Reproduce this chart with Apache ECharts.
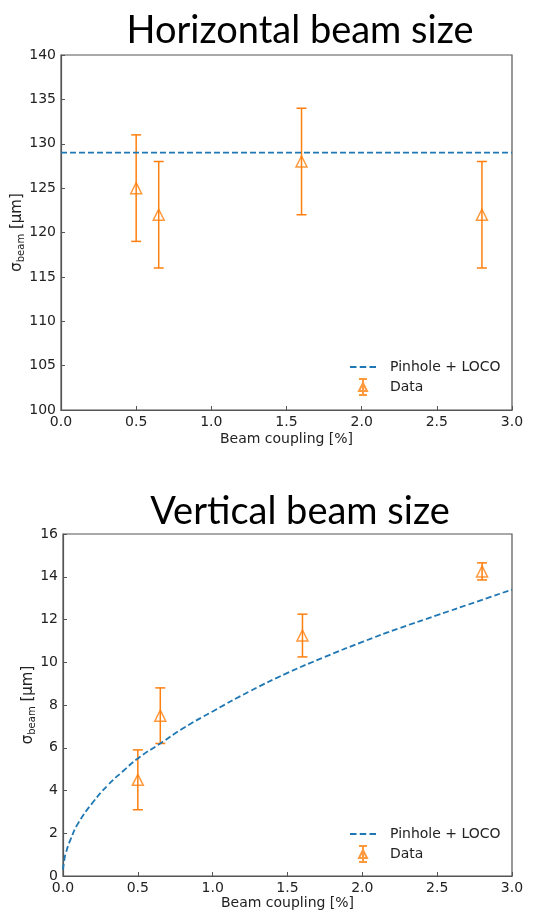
<!DOCTYPE html>
<html>
<head>
<meta charset="utf-8">
<script src="https://cdn.jsdelivr.net/npm/echarts@6/dist/echarts.min.js"></script>
<style>
  html, body { margin: 0; padding: 0; background: #fff; }
  #chart { width: 546px; height: 910px; }
</style>
</head>
<body>
<div id="chart"></div>
<script>
// beam coupling values of the measurements [%]
var coupling = [0.5, 0.65, 1.6, 2.8];

// horizontal beam size, data and error
var hSize = [125, 122, 128, 122];
var hErr = [6, 6, 6, 6];
var hModel = [[0, 129], [3, 129]];

// vertical beam size, data and error
var vSize = [4.5, 7.5, 11.25, 14.25];
var vErr = [1.4, 1.3, 1.0, 0.4];

// Pinhole + LOCO curve
var curveX = [0, 0.01, 0.02, 0.05, 0.1, 0.2, 0.3, 0.4, 0.5, 0.65, 0.8, 1.0, 1.25, 1.5, 1.75, 2.0, 2.25, 2.5, 2.75, 3.0];
var curveY = [0.3, 0.8, 1.1, 1.7, 2.45, 3.45, 4.25, 4.9, 5.5, 6.2, 6.9, 7.7, 8.65, 9.5, 10.25, 10.95, 11.6, 12.2, 12.8, 13.4];

var orange = '#ff7f0e';
var blue = '#1f77b4';
var dataIcon = 'path://M1,0 L11,0 M6,0 L6,20 M1,20 L11,20 M6,5 L1,15 L11,15 Z';
var dashIcon = 'path://M0,0 L6,0 L6,2 L0,2 Z M9,0 L15,0 L15,2 L9,2 Z M18,0 L24,0 L24,2 L18,2 Z';

var myChart = echarts.init(document.getElementById('chart'));

function zip(a, b) {
  var out = [];
  for (var i = 0; i < a.length; i++) out.push([a[i], b[i]]);
  return out;
}
function errData(x, y, e) {
  var out = [];
  for (var i = 0; i < x.length; i++) out.push([x[i], y[i], e[i]]);
  return out;
}

function renderErr(params, api) {
  var x = api.value(0), y = api.value(1), e = api.value(2);
  var lo = api.coord([x, y - e]);
  var hi = api.coord([x, y + e]);
  var cap = 5;
  var st = { stroke: orange, lineWidth: 1.5 };
  return {
    type: 'group',
    children: [
      { type: 'line', shape: { x1: lo[0], y1: lo[1], x2: hi[0], y2: hi[1] }, style: st },
      { type: 'line', shape: { x1: lo[0] - cap, y1: lo[1], x2: lo[0] + cap, y2: lo[1] }, style: st },
      { type: 'line', shape: { x1: hi[0] - cap, y1: hi[1], x2: hi[0] + cap, y2: hi[1] }, style: st }
    ]
  };
}

var tickFont = { color: '#222', fontSize: 14, fontFamily: 'DejaVu Sans' };

function xAx(idx, gap) {
  return {
    gridIndex: idx, type: 'value', min: 0, max: 3, interval: 0.5,
    name: 'Beam coupling [%]', nameLocation: 'middle', nameGap: gap, nameMoveOverlap: false,
    nameTextStyle: { color: '#222', fontSize: 14, fontFamily: 'DejaVu Sans' },
    axisLine: { show: true, onZero: false, lineStyle: { color: '#555', width: 1.2 } },
    axisTick: { show: true, inside: true, length: 4, lineStyle: { color: '#555' } },
    axisLabel: Object.assign({ margin: 5, formatter: function (v) { return v.toFixed(1); } }, tickFont),
    splitLine: { show: false }
  };
}
function yAx(idx, min, max, step, gap) {
  return {
    gridIndex: idx, type: 'value', min: min, max: max, interval: step,
    name: '{s|σ}{b|beam}{s| [μm]}', nameLocation: 'middle', nameGap: gap, nameRotate: 90,
    nameMoveOverlap: false,
    nameTextStyle: {
      color: '#222', fontFamily: 'DejaVu Sans',
      rich: {
        s: { fontSize: 15, lineHeight: 18, fontFamily: 'DejaVu Sans', color: '#222' },
        b: { fontSize: 10, lineHeight: 18, verticalAlign: 'bottom', fontFamily: 'DejaVu Sans', color: '#222' }
      }
    },
    axisLine: { show: true, lineStyle: { color: '#555', width: 1.2 } },
    axisTick: { show: true, inside: true, length: 4, lineStyle: { color: '#555' } },
    axisLabel: Object.assign({ margin: 5 }, tickFont),
    splitLine: { show: false }
  };
}
function legend(top) {
  return {
    orient: 'vertical', left: 345, top: top, itemWidth: 26, itemHeight: 16, itemGap: 4,
    selectedMode: false,
    textStyle: { color: '#222', fontSize: 14, fontFamily: 'DejaVu Sans', padding: [0, 0, 0, 9] },
    data: [
      { name: 'Pinhole + LOCO', icon: dashIcon, itemStyle: { color: blue, opacity: 1 }, lineStyle: { opacity: 0 } },
      { name: 'Data', icon: dataIcon }
    ]
  };
}

var option = {
  backgroundColor: '#fff',
  animation: false,
  title: [
    { text: 'Horizontal beam size', left: 295, top: 7, textAlign: 'center',
      textStyle: { fontSize: 38, fontWeight: 'normal', color: '#000', fontFamily: 'Lato' } },
    { text: 'Vertical beam size', left: 295, top: 488, textAlign: 'center',
      textStyle: { fontSize: 38, fontWeight: 'normal', color: '#000', fontFamily: 'Lato' } }
  ],
  grid: [
    { left: 61, top: 55, width: 451, height: 355, show: true, borderColor: '#555', borderWidth: 1.2,
      backgroundColor: '#fff', outerBoundsMode: 'none' },
    { left: 63, top: 534, width: 449, height: 342, show: true, borderColor: '#555', borderWidth: 1.2,
      backgroundColor: '#fff', outerBoundsMode: 'none' }
  ],
  legend: [legend(355), legend(822)],
  xAxis: [xAx(0, 22), xAx(1, 20)],
  yAxis: [yAx(0, 100, 140, 5, 35), yAx(1, 0, 16, 2, 26)],
  series: [
    { name: 'Pinhole + LOCO', type: 'line', xAxisIndex: 0, yAxisIndex: 0, data: hModel,
      symbol: 'none', lineStyle: { color: blue, width: 1.8, type: [6, 3] }, itemStyle: { color: blue } },
    { name: 'DataErrH', type: 'custom', xAxisIndex: 0, yAxisIndex: 0,
      data: errData(coupling, hSize, hErr), renderItem: renderErr, z: 3 },
    { name: 'Data', type: 'scatter', xAxisIndex: 0, yAxisIndex: 0, data: zip(coupling, hSize),
      symbol: 'triangle', symbolSize: 11, z: 4,
      itemStyle: { color: 'rgba(255,255,255,0)', borderColor: orange, borderWidth: 1.5 } },

    { name: 'Pinhole + LOCO', type: 'line', xAxisIndex: 1, yAxisIndex: 1, data: zip(curveX, curveY),
      symbol: 'none', smooth: true, lineStyle: { color: blue, width: 1.8, type: [6, 3] }, itemStyle: { color: blue } },
    { name: 'DataErrV', type: 'custom', xAxisIndex: 1, yAxisIndex: 1,
      data: errData(coupling, vSize, vErr), renderItem: renderErr, z: 3 },
    { name: 'Data', type: 'scatter', xAxisIndex: 1, yAxisIndex: 1, data: zip(coupling, vSize),
      symbol: 'triangle', symbolSize: 11, z: 4,
      itemStyle: { color: 'rgba(255,255,255,0)', borderColor: orange, borderWidth: 1.5 } }
  ]
};

myChart.setOption(option);
window.onresize = function () { myChart.resize(); };
</script>
</body>
</html>
